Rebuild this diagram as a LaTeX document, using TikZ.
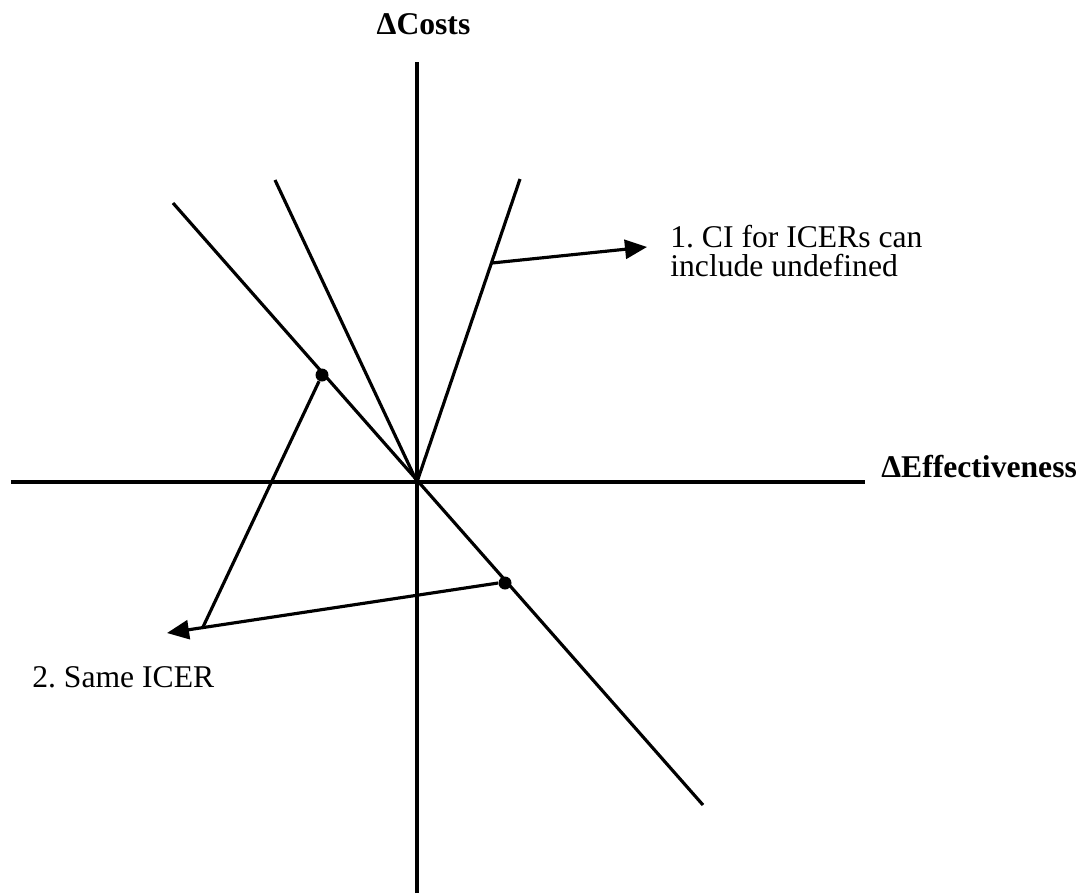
\documentclass[tikz,border=0pt]{standalone}
\usepackage{fontspec}
\setmainfont{Liberation Serif}
\usetikzlibrary{arrows.meta,positioning,calc}
\frenchspacing

\begin{document}
\begin{tikzpicture}[
    axis/.style={line width=2.6pt},
    ray/.style={line width=1.8pt},
    pointer/.style={line width=1.8pt,-{Triangle[length=4.4mm,width=3.8mm]}},
    lbl/.style={font=\fontsize{18}{22}\selectfont,inner sep=0pt},
    dot/.style={circle,fill,inner sep=0pt,minimum size=2.6mm}
]
    \useasboundingbox (-8.34,-8.22) rectangle (13.38,9.64);

    % axes
    \coordinate (O) at (0,0);
    \coordinate (ytop) at (0,8.4);
    \coordinate (ybot) at (0,-8.22);
    \coordinate (xleft) at (-8.12,0);
    \coordinate (xright) at (8.96,0);
    \draw[axis] (ybot) -- (ytop);
    \draw[axis] (xleft) -- (xright);
    \node[lbl,anchor=base] (costs) at (0.13,8.94) {\textbf{ΔCosts}};
    \node[lbl,anchor=base west] (eff) at (9.28,0.1) {\textbf{ΔEffectiveness}};

    % rays through the origin
    \coordinate (a1) at (-4.88,5.58);
    \coordinate (a2) at (5.72,-6.46);
    \coordinate (b1) at (-2.84,6.04);
    \coordinate (c1) at (2.06,6.06);
    \draw[ray] (a1) -- (a2);
    \foreach \e in {b1,c1}
        \draw[ray] (O) -- (\e);

    % 1. undefined
    \coordinate (c0) at (1.5,4.38);
    \coordinate (tip1) at (4.6,4.7);
    \draw[pointer] (c0) -- (tip1);
    \node[lbl,anchor=base west] (ci1) at (5.06,4.7) {1. CI for ICERs can};
    \node[lbl,anchor=base west] (ci2) at (5.06,4.12) {include undefined};

    % 2. same ICER
    \node[dot] (p1) at (-1.9,2.14) {};
    \node[dot] (p2) at (1.76,-2.02) {};
    \coordinate (tip2) at (-5.0,-3.02);
    \coordinate (join) at (-4.28,-2.9);
    \draw[pointer] (p2.west) -- (tip2);
    \draw[ray] (p1) -- (join);
    \node[lbl,anchor=base west] (same) at (-7.7,-4.1) {2. Same ICER};
\end{tikzpicture}
\end{document}
